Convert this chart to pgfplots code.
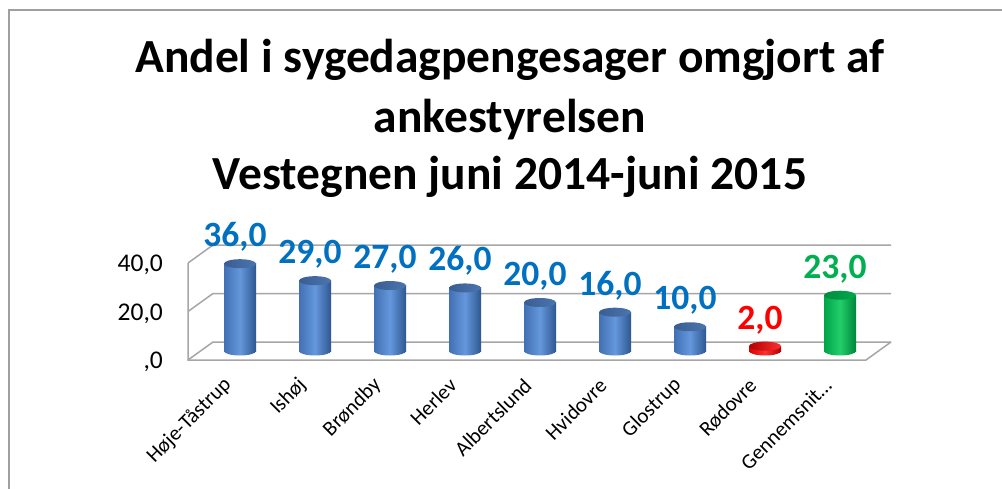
\documentclass[border=0pt]{standalone}
\usepackage{fontspec}
\setmainfont{Carlito}
\usepackage{pgfplots}
\pgfplotsset{compat=1.18}
\usetikzlibrary{shapes.geometric}
\definecolor{barL}{HTML}{4271B3}
\definecolor{barM}{HTML}{6497DC}
\definecolor{barR}{HTML}{2E5790}
\definecolor{capL}{HTML}{395D92}
\definecolor{capR}{HTML}{4C75AE}
\definecolor{lblB}{HTML}{0070C0}
\definecolor{redL}{HTML}{D80000}
\definecolor{redM}{HTML}{FF3030}
\definecolor{redR}{HTML}{B00000}
\definecolor{lblR}{HTML}{FF0000}
\definecolor{grnL}{HTML}{00A448}
\definecolor{grnM}{HTML}{22CE6A}
\definecolor{grnR}{HTML}{00853A}
\definecolor{capGL}{HTML}{008A3E}
\definecolor{capGR}{HTML}{00AA4E}
\definecolor{lblG}{HTML}{00B050}
\definecolor{gridc}{HTML}{A6A6A6}
\definecolor{framec}{HTML}{A0A0A0}
\pgfplotsset{
  cyl/.style n args={3}{ybar, bar width=32pt, bar shift=0pt, draw=none, left color=#1, right color=#3, middle color=#2},
  ell/.style n args={3}{draw=none, mark=none, nodes near coords={\relax}, every node near coord/.append style={ellipse, minimum width=32pt, minimum height=9pt, inner sep=0pt, anchor=center, left color=#1, right color=#3, middle color=#2}},
  cap/.style 2 args={draw=none, mark=none, nodes near coords={\relax}, every node near coord/.append style={ellipse, minimum width=32pt, minimum height=9pt, inner sep=0pt, anchor=center, left color=#1, right color=#2}},
  lbl/.style={draw=none, mark=none, nodes near coords, every node near coord/.append style={anchor=base, xshift=-5pt, yshift=17pt, font=\fontsize{35.5}{42}\selectfont\bfseries, text=#1}},
}
\begin{document}
\begin{tikzpicture}[x=1pt,y=1pt]
\useasboundingbox (0,0) rectangle (1002,488);
\clip (0,0) rectangle (1002,488);
\fill[white] (0,0) rectangle (1002,488);
\draw[framec, line width=1.5pt] (9,-20) -- (9,478) -- (1020,478);
\node[anchor=base, font=\fontsize{47.5}{56}\selectfont\bfseries] at (510,415) {Andel i sygedagpengesager omgjort af};
\node[anchor=base, font=\fontsize{47.5}{56}\selectfont\bfseries] at (510,355) {ankestyrelsen};
\node[anchor=base, font=\fontsize{47.5}{56}\selectfont\bfseries] at (510,298) {Vestegnen juni 2014-juni 2015};
\begin{axis}[
  at={(200.5pt,137pt)}, anchor=south west,
  width=678pt, height=97pt, scale only axis,
  xmin=-0.527, xmax=8.513, ymin=0, ymax=40,
  clip=false,
  axis line style={draw=none},
  major tick length=0pt,
  /pgf/number format/assume math mode=true,
  /pgf/number format/fixed,
  /pgf/number format/fixed zerofill,
  /pgf/number format/precision=1,
  /pgf/number format/use comma,
  ytick={0,20,40}, yticklabels={{,0},{20,0},{40,0}},
  yticklabel style={font=\fontsize{25.5}{30}\selectfont, anchor=east, inner sep=0pt, xshift=-37.5pt, yshift=-11pt},
  xtick={0,1,2,3,4,5,6,7,8},
  xticklabels={Høje-Tåstrup, Ishøj, Brøndby, Herlev, Albertslund, Hvidovre, Glostrup, Rødovre, Gennemsnit…},
  xticklabel style={font=\fontsize{21}{25}\selectfont, xshift=-12pt, yshift=-31pt, rotate=45, anchor=east, inner sep=0pt},
]
% walls and floor
\pgfplotsinvokeforeach{0,20,40}{
  \draw[gridc, line width=1.5pt] ([xshift=-12.5pt,yshift=-9pt]axis cs:-0.527,#1) -- ([xshift=12.5pt,yshift=9pt]axis cs:-0.527,#1) -- ([xshift=12.5pt,yshift=9pt]axis cs:8.513,#1);
}
\draw[gridc, line width=1.5pt] ([xshift=-12.5pt,yshift=-9pt]axis cs:-0.527,40) -- ([xshift=-12.5pt,yshift=-9pt]axis cs:-0.527,0) -- ([xshift=-12.5pt,yshift=-9pt]axis cs:8.513,0) -- ([xshift=12.5pt,yshift=9pt]axis cs:8.513,0);

% ---- bottoms of the cylinders
\addplot[ell={barL}{barM}{barR}] coordinates {(0,0) (1,0) (2,0) (3,0) (4,0) (5,0) (6,0)};
\addplot[ell={redL}{redM}{redR}] coordinates {(7,0)};
\addplot[ell={grnL}{grnM}{grnR}] coordinates {(8,0)};

% ---- bodies, one plot per bar so that each is shaded on its own
\addplot[cyl={barL}{barM}{barR}] coordinates {(0,36)};
\addplot[cyl={barL}{barM}{barR}] coordinates {(1,29)};
\addplot[cyl={barL}{barM}{barR}] coordinates {(2,27)};
\addplot[cyl={barL}{barM}{barR}] coordinates {(3,26)};
\addplot[cyl={barL}{barM}{barR}] coordinates {(4,20)};
\addplot[cyl={barL}{barM}{barR}] coordinates {(5,16)};
\addplot[cyl={barL}{barM}{barR}] coordinates {(6,10)};
\addplot[cyl={redL}{redM}{redR}] coordinates {(7,2)};
\addplot[cyl={grnL}{grnM}{grnR}] coordinates {(8,23)};

% ---- tops
\addplot[cap={capL}{capR}] coordinates {(0,36) (1,29) (2,27) (3,26) (4,20) (5,16) (6,10)};
\addplot[cap={redR}{redM}] coordinates {(7,2)};
\addplot[cap={capGL}{capGR}] coordinates {(8,23)};

% ---- value labels
\addplot[lbl=lblB] coordinates {(0,36) (1,29) (2,27) (3,26) (4,20) (5,16) (6,10)};
\addplot[lbl=lblR] coordinates {(7,2)};
\addplot[lbl=lblG] coordinates {(8,23)};
\end{axis}
\end{tikzpicture}
\end{document}
